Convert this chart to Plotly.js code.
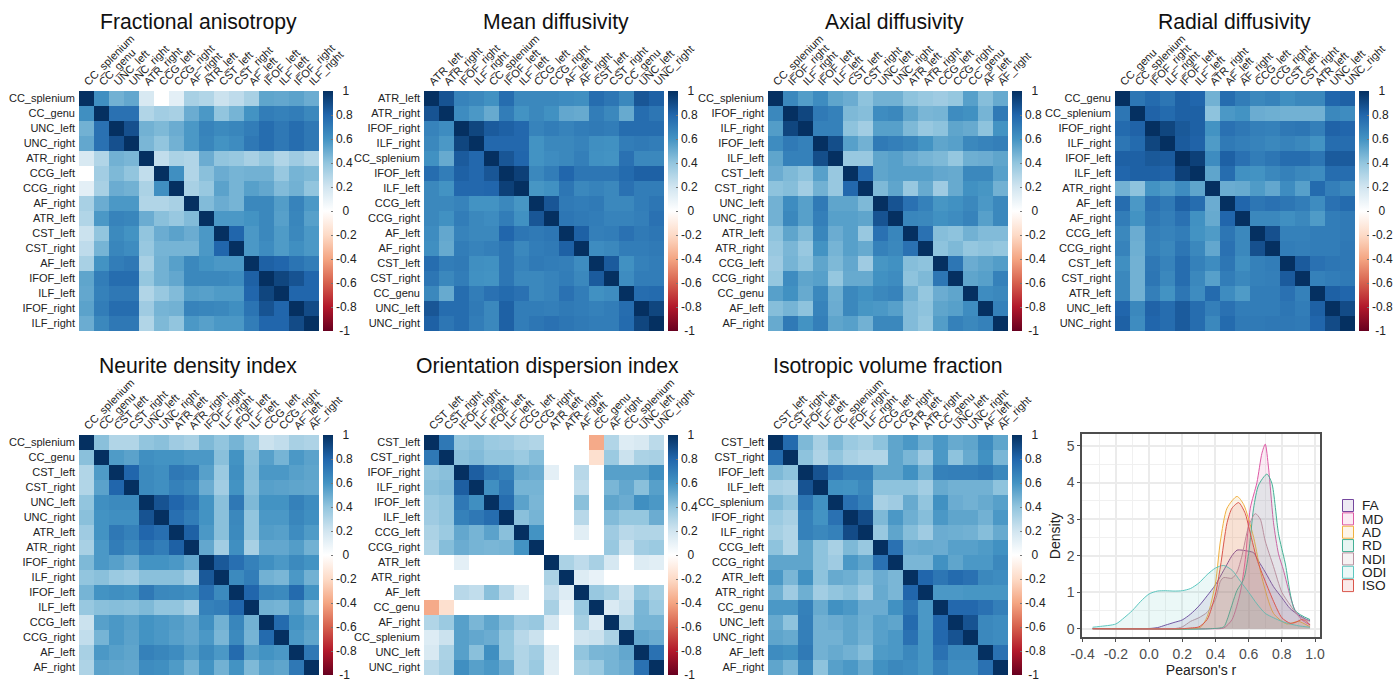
<!DOCTYPE html>
<html><head><meta charset="utf-8">
<script src="https://cdn.plot.ly/plotly-3.0.1.min.js"></script>
<style>html,body{margin:0;padding:0;background:#fff}</style></head>
<body><div id="chart" style="width:1395px;height:679px"></div>
<script>
// Upper triangles of the correlation matrices (diagonal = 1 is implied)
const faOrder=["CC_splenium","CC_genu","UNC_left","UNC_right","ATR_right","CCG_left","CCG_right","AF_right","ATR_left","CST_left","CST_right","AF_left","IFOF_left","ILF_left","IFOF_right","ILF_right"];
const faUpper=[
[.62,.48,.52,.17,null,.12,.33,.3,.22,.26,.33,.53,.52,.54,.5],
[.75,.75,.3,.35,.33,.5,.58,.4,.47,.6,.7,.68,.7,.65],
[.88,.48,.45,.5,.58,.67,.64,.66,.7,.77,.72,.77,.72],
[.46,.4,.48,.58,.66,.6,.63,.72,.77,.72,.77,.72],
[.25,.32,.3,.5,.4,.38,.33,.39,.3,.36,.3],
[.62,.3,.42,.5,.47,.48,.48,.38,.47,.45],
[.33,.38,.54,.47,.55,.52,.44,.48,.4],
[.44,.5,.47,.65,.65,.56,.67,.58],
[.58,.58,.6,.65,.55,.66,.55],
[.8,.58,.65,.57,.65,.58],
[.58,.63,.57,.62,.58],
[.82,.8,.74,.7],
[.92,.87,.8],
[.8,.8],
[.9]];
const mdOrder=["ATR_left","ATR_right","IFOF_right","ILF_right","CC_splenium","IFOF_left","ILF_left","CCG_left","CCG_right","AF_left","AF_right","CST_left","CST_right","CC_genu","UNC_left","UNC_right"];
const mdUpper=[
[.87,.67,.65,.61,.77,.65,.65,.65,.63,.62,.77,.73,.65,.86,.82],
[.63,.58,.51,.7,.6,.65,.61,.52,.51,.7,.65,.51,.77,.73],
[.92,.84,.82,.79,.67,.7,.67,.7,.71,.7,.77,.77,.77],
[.79,.79,.79,.6,.65,.65,.67,.62,.61,.7,.71,.7],
[.86,.8,.6,.63,.65,.69,.61,.6,.75,.65,.65],
[.94,.65,.7,.8,.73,.73,.73,.78,.82,.82],
[.59,.61,.73,.65,.67,.65,.75,.7,.7],
[.86,.71,.7,.71,.65,.65,.7,.73],
[.73,.71,.7,.67,.67,.69,.75],
[.82,.69,.7,.75,.71,.73],
[.63,.65,.7,.7,.71],
[.84,.61,.68,.7],
[.63,.7,.7],
[.77,.78],
[.92]];
const adOrder=["CC_splenium","IFOF_right","ILF_right","IFOF_left","ILF_left","CST_left","CST_right","UNC_left","UNC_right","ATR_left","ATR_right","CCG_left","CCG_right","CC_genu","AF_left","AF_right"];
const adUpper=[
[.65,.56,.63,.53,.5,.41,.48,.48,.41,.38,.36,.39,.55,.43,.51],
[.92,.71,.68,.45,.43,.63,.65,.53,.46,.47,.63,.61,.47,.71],
[.68,.68,.41,.35,.55,.55,.45,.38,.41,.53,.51,.41,.6],
[.89,.55,.48,.71,.69,.66,.6,.53,.55,.65,.67,.69],
[.38,.38,.53,.55,.5,.47,.45,.39,.49,.5,.53],
[.79,.53,.55,.55,.55,.52,.51,.65,.65,.55],
[.45,.53,.38,.51,.36,.51,.61,.59,.48],
[.87,.75,.68,.59,.61,.65,.58,.65],
[.66,.65,.61,.63,.67,.55,.65],
[.75,.43,.41,.48,.44,.44],
[.41,.45,.39,.41,.39],
[.73,.5,.53,.56],
[.53,.55,.68],
[.63,.65],
[.68]];
const rdOrder=["CC_genu","CC_splenium","IFOF_right","ILF_right","IFOF_left","ILF_left","ATR_right","AF_left","AF_right","CCG_left","CCG_right","CST_left","CST_right","ATR_left","UNC_left","UNC_right"];
const rdUpper=[
[.73,.78,.73,.82,.8,.48,.77,.7,.65,.67,.62,.65,.65,.8,.82],
[.81,.78,.82,.82,.41,.58,.6,.5,.49,.48,.48,.48,.65,.63],
[.92,.85,.82,.6,.75,.72,.69,.68,.72,.73,.69,.81,.8],
[.84,.81,.57,.71,.69,.67,.65,.67,.65,.6,.77,.77],
[.94,.63,.82,.75,.7,.73,.77,.77,.73,.84,.84],
[.53,.77,.61,.6,.65,.68,.65,.63,.77,.77],
[.5,.51,.57,.52,.63,.55,.78,.69,.65],
[.8,.73,.75,.73,.7,.63,.75,.78],
[.65,.65,.62,.65,.57,.7,.71],
[.88,.68,.68,.7,.7,.71],
[.7,.69,.7,.7,.72],
[.84,.75,.73,.72],
[.68,.7,.71],
[.82,.8],
[.9]];
const ndiOrder=["CC_splenium","CC_genu","CST_left","CST_right","UNC_left","UNC_right","ATR_left","ATR_right","IFOF_right","ILF_right","IFOF_left","ILF_left","CCG_left","CCG_right","AF_left","AF_right"];
const ndiUpper=[
[.42,.3,.3,.4,.42,.36,.33,.45,.4,.47,.38,.22,.25,.33,.31],
[.57,.54,.62,.6,.6,.58,.58,.42,.6,.42,.55,.47,.58,.54],
[.8,.64,.62,.72,.7,.55,.37,.62,.43,.58,.58,.55,.53],
[.64,.62,.68,.65,.5,.35,.6,.42,.55,.54,.53,.52],
[.87,.8,.74,.6,.42,.72,.45,.6,.6,.68,.63],
[.76,.7,.6,.42,.65,.4,.58,.58,.66,.62],
[.82,.58,.42,.64,.4,.56,.55,.63,.57],
[.52,.35,.62,.33,.52,.52,.56,.48],
[.85,.76,.68,.62,.58,.64,.6],
[.64,.7,.48,.46,.58,.48],
[.8,.66,.64,.78,.6],
[.48,.47,.56,.45],
[.78,.6,.55],
[.58,.53],
[.72]];
const odiOrder=["CST_left","CST_right","IFOF_right","ILF_right","IFOF_left","ILF_left","CCG_left","CCG_right","ATR_left","ATR_right","AF_left","CC_genu","AF_right","CC_splenium","UNC_left","UNC_right"];
const odiUpper=[
[.72,.4,.42,.37,.36,.32,.3,null,null,null,-.38,.3,.15,.17,.27],
[.42,.44,.4,.4,.37,.43,null,null,null,-.17,.37,.22,.32,.33],
[.83,.72,.68,.52,.5,.12,null,.28,null,.55,.55,.55,.62],
[.62,.72,.47,.47,null,null,.25,null,.46,.52,.42,.55],
[.77,.54,.46,null,null,.42,null,.53,.5,.62,.58],
[.42,.47,null,null,.28,null,.44,.39,.39,.5],
[.6,null,null,.13,null,.36,.28,.3,.3],
[null,null,null,null,.38,.22,.35,.37],
[.32,.26,.33,.18,null,.15,.13],
[.15,.1,null,null,null,null],
[.38,.34,.2,.4,.34],
[.16,.22,.46,.37],
[.32,.47,.47],
[.52,.5],
[.75]];
const isoOrder=["CST_left","CST_right","IFOF_left","ILF_left","CC_splenium","IFOF_right","ILF_right","CCG_left","CCG_right","ATR_left","ATR_right","CC_genu","UNC_left","UNC_right","AF_left","AF_right"];
const isoUpper=[
[.78,.45,.33,.45,.37,.34,.41,.53,.58,.49,.58,.51,.53,.63,.53],
[.41,.31,.4,.33,.3,.3,.53,.46,.36,.58,.41,.51,.61,.46],
[.87,.73,.68,.68,.53,.53,.61,.49,.68,.69,.69,.71,.65],
[.61,.6,.65,.41,.41,.41,.35,.51,.48,.48,.48,.41],
[.75,.68,.33,.36,.51,.4,.61,.5,.48,.51,.55],
[.9,.45,.58,.49,.43,.58,.53,.53,.48,.58],
[.38,.53,.43,.36,.5,.49,.48,.43,.51],
[.75,.5,.51,.5,.55,.55,.57,.61],
[.46,.46,.61,.53,.58,.58,.65],
[.8,.73,.78,.75,.65,.63],
[.58,.58,.59,.59,.59],
[.79,.79,.75,.69],
[.87,.65,.63],
[.65,.63],
[.75]];
const panelTitles=["Fractional anisotropy","Mean diffusivity","Axial diffusivity","Radial diffusivity","Neurite density index","Orientation dispersion index","Isotropic volume fraction"];
const cbVals=[1,.8,.6,.4,.2,0,-.2,-.4,-.6,-.8,-1];
const cbText=["\u00a0\u00a01","0.8","0.6","0.4","0.2","\u00a0\u00a00","-0.2","-0.4","-0.6","-0.8","\u00a0-1"];
// Density curves
const densityNames=["FA","MD","AD","RD","NDI","ODI","ISO"];
const densityColors=["#75479e","#dd5aa5","#f0b040","#45b095","#b9909f","#5cc6bf","#d9554b"];
const faX=[-.34,-.02,.05,.1,.15,.2,.25,.3,.35,.4,.45,.5,.53,.56,.6,.63,.66,.7,.75,.8,.85,.9,.95,.97];
const faY=[0,0,.03,.1,.17,.24,.4,.62,.9,1.2,1.6,2,2.15,2.15,2.12,2.08,1.85,1.55,1.15,.85,.55,.38,.25,.22];
const mdX=[-.34,.38,.45,.5,.55,.58,.61,.65,.68,.7,.72,.75,.78,.81,.85,.88,.92,.97];
const mdY=[0,0,.02,.25,1,1.9,3.3,4,4.8,5.05,4.4,2.9,2.05,1.6,.9,.5,.25,.1];
const adX=[-.34,.25,.31,.35,.4,.43,.47,.53,.57,.63,.68,.75,.83,.9,.97];
const adY=[0,0,.04,.33,1.25,2.4,3.3,3.62,3.4,2.5,1.4,.42,.13,.2,.05];
const rdX=[-.34,.37,.45,.47,.53,.57,.6,.63,.66,.71,.74,.78,.82,.88,.97];
const rdY=[0,0,.05,.24,1.05,1.35,2.06,3.3,3.93,4.23,3.98,2.6,1.8,.5,.25];
const ndiX=[-.34,.15,.2,.25,.3,.35,.4,.43,.45,.5,.53,.56,.6,.64,.67,.7,.75,.8,.85,.9,.97];
const ndiY=[0,0,.05,.2,.3,.45,.8,1.3,1.4,1.38,1.55,2,2.8,3.15,3,2.4,1.7,1,.65,.35,.2];
const odiX=[-.34,-.3,-.2,-.15,-.1,-.05,0,.05,.1,.15,.2,.25,.3,.35,.4,.45,.5,.55,.6,.65,.7,.75,.8,.85,.9,.97];
const odiY=[.04,.06,.13,.3,.5,.75,.95,1.03,1.04,1.03,1.04,1.1,1.25,1.48,1.66,1.73,1.6,1.3,1,.68,.42,.3,.2,.13,.08,.04];
const isoX=[-.34,.2,.25,.3,.35,.4,.43,.47,.5,.54,.58,.6,.65,.7,.75,.8,.85,.88,.92,.95,.97];
const isoY=[0,0,.02,.05,.25,.95,1.7,2.9,3.3,3.45,3.15,2.8,1.9,1.3,.75,.3,.15,.17,.25,.2,.1];
const densityTickX=[-.4,-.2,0,.2,.4,.6,.8,1];
const densityTickXText=["-0.4","-0.2","0.0","0.2","0.4","0.6","0.8","1.0"];
const densityTickY=[0,1,2,3,4,5];

const W=1395,H=679;
const fx=p=>p/W, fy=p=>1-p/H;
const RdBu=[[0,"#67001F"],[.1,"#B2182B"],[.2,"#D6604D"],[.3,"#F4A582"],[.4,"#FDDBC7"],[.5,"#FFFFFF"],[.6,"#D1E5F0"],[.7,"#92C5DE"],[.8,"#4393C3"],[.9,"#2166AC"],[1,"#053061"]];
const fontName='"Liberation Sans",Arial,sans-serif';
function fullMatrix(upper){
  const n=upper.length+1,m=[];
  for(let i=0;i<n;i++){m.push(new Array(n).fill(1));}
  upper.forEach((row,i)=>row.forEach((v,k)=>{m[i][i+1+k]=v;m[i+1+k][i]=v;}));
  return m;
}
const panels=[
 {o:faOrder,u:faUpper,x:79,y:91,cb:323,tx:198,ty:22},
 {o:mdOrder,u:mdUpper,x:424,y:91,cb:668,tx:555.5,ty:22},
 {o:adOrder,u:adUpper,x:768,y:91,cb:1012,tx:895,ty:22},
 {o:rdOrder,u:rdUpper,x:1115,y:91,cb:1359,tx:1234,ty:22},
 {o:ndiOrder,u:ndiUpper,x:79,y:435,cb:323,tx:198,ty:366},
 {o:odiOrder,u:odiUpper,x:424,y:435,cb:668,tx:547.5,ty:366},
 {o:isoOrder,u:isoUpper,x:768,y:435,cb:1012,tx:888,ty:366}
];
const traces=[],annotations=[],shapes=[];
const layout={width:W,height:H,margin:{l:0,r:0,t:0,b:0},paper_bgcolor:"#fff",plot_bgcolor:"#fff",showlegend:false,font:{family:fontName,color:"#222"}};
panels.forEach((p,i)=>{
  const s=i===0?"":String(i+1);
  const size=240;
  layout["xaxis"+s]={domain:[fx(p.x),fx(p.x+size)],anchor:"y"+s,side:"top",tickangle:-45,type:"category",showgrid:false,zeroline:false,showline:false,ticks:"",ticklabelshift:-2,tickfont:{size:11,color:"#222",family:fontName},tickmode:"array",tickvals:p.o,ticktext:p.o,automargin:false};
  layout["yaxis"+s]={domain:[fy(p.y+size),fy(p.y)],anchor:"x"+s,type:"category",autorange:"reversed",showgrid:false,zeroline:false,showline:false,ticks:"",ticklabelstandoff:3,tickfont:{size:11,color:"#222",family:fontName},tickmode:"array",tickvals:p.o,ticktext:p.o,automargin:false};
  traces.push({type:"heatmap",x:p.o,y:p.o,z:fullMatrix(p.u),xaxis:"x"+s,yaxis:"y"+s,zmin:-1,zmax:1,colorscale:RdBu,hoverongaps:false,
    colorbar:{x:fx(p.cb),xanchor:"left",y:fy(p.y),yanchor:"top",lenmode:"pixels",len:size,thicknessmode:"pixels",thickness:10,xpad:0,ypad:0,outlinewidth:0,ticks:"inside",ticklen:2,tickwidth:1,tickcolor:"#777",tickmode:"array",tickvals:cbVals,ticktext:cbText,ticklabeloverflow:"allow",tickfont:{size:12,color:"#222",family:fontName}}});
  annotations.push({xref:"paper",yref:"paper",x:fx(p.tx),y:fy(p.ty),xanchor:"center",yanchor:"middle",showarrow:false,text:panelTitles[i],font:{size:21.2,color:"#111",family:fontName}});
});
// Density panel
const dX=[faX,mdX,adX,rdX,ndiX,odiX,isoX],dY=[faY,mdY,adY,rdY,ndiY,odiY,isoY];
function rgba(hex,a){const n=parseInt(hex.slice(1),16);return `rgba(${n>>16},${(n>>8)&255},${n&255},${a})`;}
densityNames.forEach((name,i)=>{
  traces.push({type:"scatter",mode:"lines",name,x:dX[i],y:dY[i],xaxis:"x8",yaxis:"y8",fill:"tozeroy",fillcolor:rgba(densityColors[i],.12),line:{color:densityColors[i],width:1,shape:"spline",smoothing:.7}});
  const top=499+i*13.35;
  shapes.push({type:"rect",xref:"paper",yref:"paper",x0:fx(1342.5),x1:fx(1353.5),y0:fy(top+12.5),y1:fy(top+.5),line:{color:densityColors[i],width:1},fillcolor:rgba(densityColors[i],.12)});
  annotations.push({xref:"paper",yref:"paper",x:fx(1360),y:fy(top+6.8),xanchor:"left",yanchor:"middle",showarrow:false,text:name,font:{size:13.7,color:"#222",family:fontName}});
});
layout.xaxis8={domain:[fx(1082),fx(1320)],anchor:"y8",range:[-.404,1.03],tickmode:"array",tickvals:densityTickX,ticktext:densityTickXText,showgrid:true,gridcolor:"#ebebeb",gridwidth:1.5,zeroline:false,showline:true,mirror:true,linecolor:"#4d4d4d",linewidth:1.5,ticks:"outside",ticklen:3,tickcolor:"#4d4d4d",tickfont:{size:14,color:"#4d4d4d",family:fontName},minor:{tickmode:"array",tickvals:[-.3,-.1,.1,.3,.5,.7,.9],showgrid:true,gridcolor:"#f0f0f0",gridwidth:1},title:{text:"Pearson's r",standoff:0,font:{size:14,color:"#222",family:fontName}}};
layout.yaxis8={domain:[fy(637.3),fy(434.3)],anchor:"x8",range:[-.235,5.32],tickmode:"array",tickvals:densityTickY,showgrid:true,gridcolor:"#ebebeb",gridwidth:1.5,zeroline:false,showline:true,mirror:true,linecolor:"#4d4d4d",linewidth:1.5,ticks:"outside",ticklen:3,tickcolor:"#4d4d4d",tickfont:{size:14,color:"#4d4d4d",family:fontName},minor:{tickmode:"array",tickvals:[.5,1.5,2.5,3.5,4.5],showgrid:true,gridcolor:"#f0f0f0",gridwidth:1},title:{text:"Density",standoff:3,font:{size:14,color:"#222",family:fontName}}};
layout.annotations=annotations;layout.shapes=shapes;
Plotly.newPlot("chart",traces,layout,{displayModeBar:false,responsive:false});
</script></body></html>
